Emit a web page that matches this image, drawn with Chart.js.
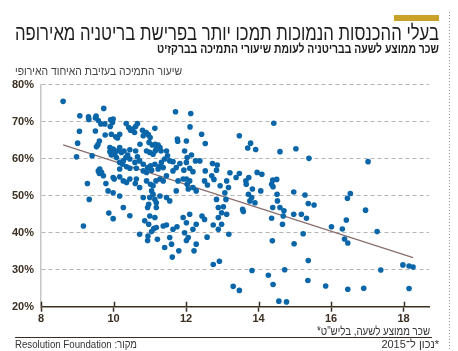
<!DOCTYPE html>
<html lang="he">
<head>
<meta charset="utf-8">
<script src="https://cdn.jsdelivr.net/npm/chart.js@4.4.0/dist/chart.umd.min.js"></script>
<style>
  html, body { margin: 0; padding: 0; background: #fff; }
</style>
</head>
<body>
<canvas id="chart" width="458" height="351"></canvas>
<script>
// hourly wage (GBP) per area
const wage = [
  8.61, 9.73, 11.71, 12.13, 9.07, 9.31, 9.52, 9.50, 9.58, 9.65, 9.32, 9.92, 9.99, 9.97, 9.91, 9.76, 10.35, 10.42, 10.66, 10.61, 10.53, 10.47, 12.11, 11.14,
  9.06, 9.50, 9.77, 9.94, 10.17, 10.11, 10.06, 10.58, 10.80, 10.90, 10.82, 10.96, 11.01, 10.73, 10.98, 11.07, 11.15, 11.23, 11.28, 11.15, 11.76, 11.77, 12.01, 12.43, 12.53, 9.61, 9.57, 9.53, 9.01, 9.90, 9.99, 10.05, 9.97,
  8.98, 9.41, 9.90, 10.10, 10.17, 10.22, 10.29, 10.39, 10.45, 10.61, 10.66, 10.34, 10.45, 10.27, 10.17, 10.08, 10.03, 9.94, 10.91, 11.00, 11.09, 11.18, 11.31, 11.46, 11.49, 11.41, 11.55, 11.64, 11.32, 11.26, 11.23, 11.37, 11.14, 11.02, 10.94, 10.82, 10.72, 10.59, 10.63, 10.45, 10.36, 10.25, 10.17, 9.62, 9.58, 9.67, 9.72, 9.61, 10.82, 10.91, 11.05, 11.96, 12.03, 12.15, 12.26, 12.38, 12.01, 11.83, 11.73, 11.64, 11.94, 12.10, 12.19, 12.53,
  9.79, 10.02, 9.99, 10.17, 10.27, 10.36, 10.45, 10.63, 10.60, 10.72, 10.91, 11.02, 11.09, 11.17, 11.28, 11.37, 11.46, 11.05, 11.09, 11.00, 11.14, 11.18, 11.28, 11.46, 11.55, 11.73, 11.78, 11.92, 12.01, 12.10, 12.03, 12.06, 12.19, 12.28, 12.51, 12.59, 9.33, 9.28, 9.99, 10.17, 9.85,
  10.82, 10.97, 10.94, 11.18, 11.00, 11.14, 10.97, 10.86, 11.18, 11.11, 11.37, 11.46, 11.64, 11.75, 11.92, 12.01, 12.10, 12.19, 12.28, 12.44, 12.51, 9.87, 9.99, 10.27, 10.45, 9.17, 10.72, 10.95, 11.05,
  10.94, 11.21, 11.41, 11.55, 11.60, 11.62, 11.80, 11.96, 12.01, 12.06, 12.22, 12.28, 12.58,
  14.42, 13.47, 13.78, 13.70, 13.92, 14.59, 15.03, 15.39, 17.02, 12.73, 12.86, 12.84, 12.71, 12.77, 13.21, 13.47, 13.38, 13.65, 13.73, 13.66, 13.96, 14.09,
  13.72, 13.83, 13.81, 13.76, 13.90, 14.06, 13.56, 13.58, 14.39, 14.50, 14.36, 14.40, 14.51, 14.52, 14.39, 14.59, 14.70, 14.68, 14.97, 15.28, 15.37, 15.53,
  14.97, 15.18, 15.32, 14.66, 14.36, 15.23, 14.98, 14.38, 15.37, 15.36, 13.82, 14.27, 14.40, 14.72, 14.56, 14.77, 13.30, 13.47, 12.75, 12.92,
  13.12, 13.17, 13.10, 13.12, 13.18, 12.98, 12.89, 12.89, 12.75, 12.94, 13.07, 12.84, 12.89, 12.98, 13.03,
  16.01, 16.31, 16.42, 16.45, 16.53, 16.37, 16.46, 16.95, 17.27, 17.37, 15.85, 16.46, 16.90, 17.98, 18.15, 18.26, 18.15
];

// share voting leave (%), same order as wage
const support = [
  75.5, 73.6, 72.7, 72.2, 71.6, 71.3, 71.5, 71.0, 70.3, 69.4, 70.6, 70.5, 70.7, 69.8, 68.7, 69.4, 69.5, 68.4, 69.5, 68.7, 68.0, 67.7, 68.6, 68.2,
  67.4, 67.5, 66.4, 66.6, 66.6, 65.6, 65.9, 67.1, 67.7, 67.1, 66.2, 66.5, 65.7, 63.9, 64.4, 63.7, 63.9, 63.7, 63.0, 62.1, 65.3, 64.7, 64.8, 66.6, 64.1, 64.8, 63.8, 63.2, 64.2, 63.0, 62.6, 61.9, 62.4,
  60.5, 60.8, 61.9, 62.1, 63.0, 61.7, 62.1, 61.0, 62.4, 62.1, 60.5, 60.3, 59.9, 59.4, 59.0, 60.3, 61.2, 61.0, 62.1, 61.7, 61.2, 62.6, 62.1, 62.1, 60.8, 59.9, 59.4, 59.2, 59.0, 57.8, 57.2, 57.6, 58.5, 58.1, 57.6, 58.5, 59.4, 59.0, 57.4, 57.4, 57.8, 58.5, 57.2, 57.2, 56.7, 56.3, 55.4, 56.0, 56.7, 56.3, 56.9, 62.1, 60.3, 61.0, 59.4, 59.4, 59.0, 58.7, 57.6, 56.7, 56.9, 57.4, 56.5, 56.7,
  53.3, 54.5, 54.9, 55.1, 54.0, 53.6, 54.5, 54.5, 53.3, 52.2, 54.0, 53.1, 52.7, 54.0, 54.5, 54.0, 55.4, 51.3, 50.4, 49.5, 49.0, 48.1, 49.9, 49.5, 48.6, 51.3, 54.0, 54.5, 54.5, 54.0, 53.1, 51.8, 52.2, 51.3, 54.0, 52.9, 49.0, 53.3, 50.8, 49.9, 51.3,
  49.5, 47.7, 46.8, 46.8, 44.5, 44.1, 42.3, 43.2, 41.4, 41.1, 41.8, 42.1, 40.9, 41.6, 44.1, 42.7, 45.0, 40.9, 42.3, 44.5, 43.6, 45.3, 43.8, 46.8, 44.6, 41.8, 39.6, 39.1, 40.3,
  37.9, 38.2, 36.0, 38.7, 36.9, 33.4, 35.1, 40.0, 37.9, 38.7, 35.1, 36.9, 38.8,
  69.6, 66.2, 64.2, 62.9, 62.5, 61.9, 62.7, 60.1, 59.2, 58.7, 58.3, 56.9, 55.4, 54.4, 56.2, 56.0, 54.9, 54.0, 54.9, 53.1, 56.3, 55.8,
  50.4, 51.8, 49.5, 48.6, 48.1, 51.3, 46.3, 45.7, 54.2, 54.4, 53.1, 52.4, 50.4, 48.6, 46.8, 46.8, 45.9, 44.5, 51.0, 50.2, 47.9, 47.5,
  45.0, 45.0, 43.9, 42.3, 43.9, 39.7, 37.0, 37.8, 32.5, 27.1, 29.8, 28.5, 26.0, 30.0, 21.5, 21.3, 25.5, 24.4, 31.4, 32.3,
  54.0, 52.2, 49.0, 45.0, 39.6, 42.3, 44.1, 40.9, 42.1, 52.7, 50.8, 49.0, 46.8, 45.4, 47.0,
  41.6, 41.0, 43.4, 49.3, 50.6, 38.3, 37.2, 46.1, 40.3, 29.9, 25.6, 24.7, 25.0, 31.3, 31.0, 30.7, 24.9
];

// fitted trend line ends
const trendX = [8.61, 18.26];
const trendY = [63.75, 33.25];

const xTicks = [8, 10, 12, 14, 16, 18];
const yTicks = [20, 30, 40, 50, 60, 70, 80];

const title = 'בעלי ההכנסות הנמוכות תמכו יותר בפרישת בריטניה מאירופה';
const subtitle = 'שכר ממוצע לשעה בבריטניה לעומת שיעורי התמיכה בברקזיט';
const yTitle = 'שיעור התמיכה בעזיבת האיחוד האירופי';
const xTitle = 'שכר ממוצע לשעה, בליש"ט*';
const sourceNote = 'מקור: Resolution Foundation';
const dateNote = '*נכון ל־2015';

const axisColor = '#3b2f22';

const points = wage.map((w, i) => ({ x: w, y: support[i] }));
const trend = trendX.map((x, i) => ({ x: x, y: trendY[i] }));

// titles, notes and the decorations around the plot
const decorations = {
    id: 'decorations',
    afterDraw(chart) {
        const ctx = chart.ctx;
        const xs = chart.scales.x;
        ctx.save();

        ctx.fillStyle = '#c9a227';
        ctx.fillRect(394, 15, 45, 6);

        ctx.strokeStyle = '#9a9a9a';
        ctx.lineWidth = 1;
        ctx.setLineDash([1, 2]);
        ctx.beginPath();
        ctx.moveTo(449.5, 12);
        ctx.lineTo(449.5, 351);
        ctx.stroke();
        ctx.setLineDash([]);

        ctx.direction = 'rtl';
        ctx.textAlign = 'right';
        ctx.textBaseline = 'alphabetic';

        ctx.fillStyle = '#1e1e1e';
        ctx.font = '21px "Liberation Sans", "DejaVu Sans", sans-serif';
        ctx.fillText(title, 439, 40, 424);

        ctx.font = 'bold 12.5px "Liberation Sans", "DejaVu Sans", sans-serif';
        ctx.fillText(subtitle, 439, 53, 282);

        ctx.fillStyle = '#444';
        ctx.font = '12.5px "Liberation Sans", "DejaVu Sans", sans-serif';
        ctx.fillText(yTitle, 182, 75, 167);

        ctx.fillStyle = '#333';
        ctx.fillText(xTitle, 430, 335, 113);

        ctx.font = '11px "Liberation Sans", "DejaVu Sans", sans-serif';
        ctx.fillText(dateNote, 439, 348);
        ctx.fillText(sourceNote, 137, 348, 122);

        ctx.strokeStyle = axisColor;
        ctx.lineWidth = 1;
        ctx.beginPath();
        ctx.moveTo(15, 337.5);
        ctx.lineTo(432, 337.5);
        ctx.stroke();

        // tick marks also cross above the x axis
        ctx.lineWidth = 1.5;
        xTicks.forEach(v => {
            const px = Math.round(xs.getPixelForValue(v)) + 0.5;
            ctx.beginPath();
            ctx.moveTo(px, xs.top - 5);
            ctx.lineTo(px, xs.top);
            ctx.stroke();
        });
        ctx.restore();
    }
};

const tickFont = { family: '"Liberation Sans", "DejaVu Sans", sans-serif', size: 11, weight: 'bold' };

new Chart(document.getElementById('chart'), {
    data: {
        datasets: [{
            type: 'scatter',
            data: points,
            backgroundColor: '#0a66a8',
            borderWidth: 0,
            pointRadius: 2.8,
            pointHoverRadius: 2.8
        }, {
            type: 'line',
            data: trend,
            borderColor: '#8a6e6e',
            borderWidth: 1.2,
            pointRadius: 0,
            fill: false
        }]
    },
    options: {
        responsive: false,
        devicePixelRatio: 1,
        animation: false,
        events: [],
        layout: { padding: { top: 84.7, right: 29, left: 0, bottom: 0 } },
        plugins: { legend: { display: false }, tooltip: { enabled: false } },
        scales: {
            x: {
                type: 'linear',
                position: 'bottom',
                min: 8,
                max: 18.7,
                afterBuildTicks: scale => { scale.ticks = xTicks.map(v => ({ value: v })); },
                afterFit: scale => { scale.height = 44.3; },
                grid: { drawOnChartArea: false, drawTicks: true, tickLength: 5, tickWidth: 1.5, tickColor: axisColor },
                border: { color: axisColor, width: 1.5 },
                ticks: { color: axisColor, font: tickFont, padding: 1, maxRotation: 0 }
            },
            y: {
                type: 'linear',
                min: 20,
                max: 80,
                afterBuildTicks: scale => { scale.ticks = yTicks.map(v => ({ value: v })); },
                afterFit: scale => { scale.width = 41; },
                grid: { color: '#b5b5b5', lineWidth: 1, drawTicks: false },
                border: { color: '#c6c6c6', width: 1.5, dash: [4, 3] },
                ticks: { color: axisColor, font: tickFont, padding: 7, callback: v => v + '%' }
            }
        }
    },
    plugins: [decorations]
});
</script>
</body>
</html>
